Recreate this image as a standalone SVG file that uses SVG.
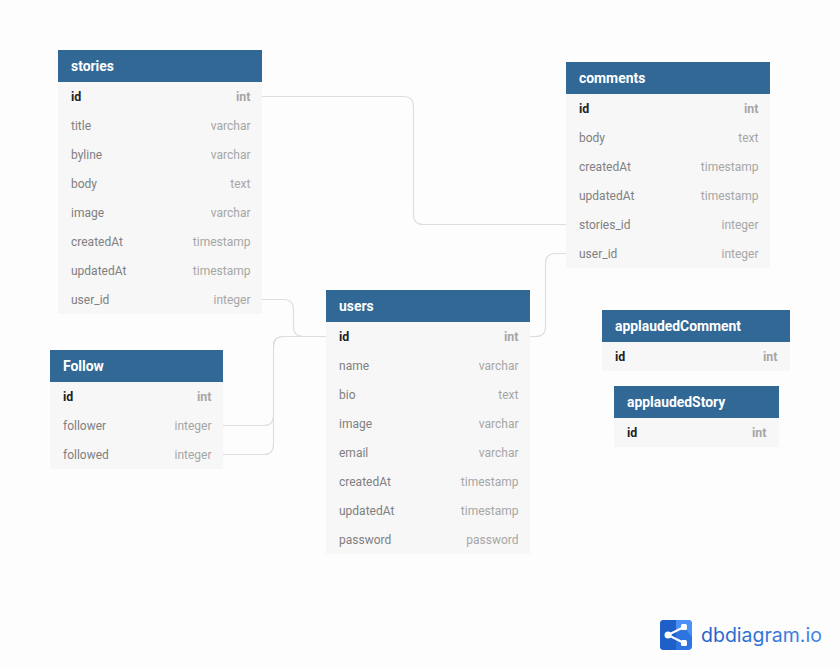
<svg xmlns="http://www.w3.org/2000/svg" width="840" height="669" viewBox="0 0 840 669">
<defs>
<linearGradient id="logoText" x1="0" x2="1" y1="0" y2="0"><stop offset="0" stop-color="#2563c9"/><stop offset="1" stop-color="#3f86e8"/></linearGradient>
</defs>
<style>
text{font-family:Roboto,"Liberation Sans",sans-serif;font-size:12px}
.h{fill:#316896}
.b{fill:#f7f7f7}
.t{fill:#fff;font-weight:700;font-size:13.9px}
.n{fill:#808080}
.p{fill:#222;font-weight:700;font-size:12.4px}
.y{fill:#a6a6a6;text-anchor:end}
.yp{fill:#a6a6a6;font-weight:700;text-anchor:end;font-size:12.4px}
.c{fill:none;stroke:#dddddd;stroke-width:1.1}
</style>
<rect width="840" height="669" fill="#fdfdfd"/>
<g id="connectors">
<path class="c" d="M262 96.5H403.5Q413.5 96.5 413.5 106.500V214.500Q413.5 224.500 423.500 224.500H566"/>
<path class="c" d="M262 299.500H283.500Q293.500 299.500 293.500 309.500V326.500Q293.500 336.500 303.500 336.500H326"/>
<path class="c" d="M223 425.500H263.500Q273.500 425.500 273.500 415.500V346.500Q273.500 336.500 283.500 336.500H326"/>
<path class="c" d="M223 454.500H263.500Q273.500 454.500 273.500 444.500V346.500Q273.500 336.500 283.500 336.500H326"/>
<path class="c" d="M530 336.500H535.500Q545.500 336.500 545.500 326.500V263.500Q545.500 253.500 555.500 253.500H566"/>
</g>
<g id="stories">
<rect class="b" x="58" y="82" width="204" height="232"/><rect class="h" x="58" y="50" width="204" height="32"/>
<text class="t" x="71" y="71">stories</text>
<text class="p" x="71" y="101">id</text><text class="yp" x="250.500" y="101">int</text>
<text class="n" x="71" y="130">title</text><text class="y" x="250.500" y="130">varchar</text>
<text class="n" x="71" y="159">byline</text><text class="y" x="250.500" y="159">varchar</text>
<text class="n" x="71" y="188">body</text><text class="y" x="250.500" y="188">text</text>
<text class="n" x="71" y="217">image</text><text class="y" x="250.500" y="217">varchar</text>
<text class="n" x="71" y="246">createdAt</text><text class="y" x="250.500" y="246">timestamp</text>
<text class="n" x="71" y="275">updatedAt</text><text class="y" x="250.500" y="275">timestamp</text>
<text class="n" x="71" y="304">user_id</text><text class="y" x="250.500" y="304">integer</text>
</g>
<g id="comments">
<rect class="b" x="566" y="94" width="204" height="174"/><rect class="h" x="566" y="62" width="204" height="32"/>
<text class="t" x="579" y="83">comments</text>
<text class="p" x="579" y="113">id</text><text class="yp" x="758.500" y="113">int</text>
<text class="n" x="579" y="142">body</text><text class="y" x="758.500" y="142">text</text>
<text class="n" x="579" y="171">createdAt</text><text class="y" x="758.500" y="171">timestamp</text>
<text class="n" x="579" y="200">updatedAt</text><text class="y" x="758.500" y="200">timestamp</text>
<text class="n" x="579" y="229">stories_id</text><text class="y" x="758.500" y="229">integer</text>
<text class="n" x="579" y="258">user_id</text><text class="y" x="758.500" y="258">integer</text>
</g>
<g id="users">
<rect class="b" x="326" y="322" width="204" height="232"/><rect class="h" x="326" y="290" width="204" height="32"/>
<text class="t" x="339" y="311">users</text>
<text class="p" x="339" y="341">id</text><text class="yp" x="518.500" y="341">int</text>
<text class="n" x="339" y="370">name</text><text class="y" x="518.500" y="370">varchar</text>
<text class="n" x="339" y="399">bio</text><text class="y" x="518.500" y="399">text</text>
<text class="n" x="339" y="428">image</text><text class="y" x="518.500" y="428">varchar</text>
<text class="n" x="339" y="457">email</text><text class="y" x="518.500" y="457">varchar</text>
<text class="n" x="339" y="486">createdAt</text><text class="y" x="518.500" y="486">timestamp</text>
<text class="n" x="339" y="515">updatedAt</text><text class="y" x="518.500" y="515">timestamp</text>
<text class="n" x="339" y="544">password</text><text class="y" x="518.500" y="544">password</text>
</g>
<g id="Follow">
<rect class="b" x="50" y="382" width="173" height="87"/><rect class="h" x="50" y="350" width="173" height="32"/>
<text class="t" x="63" y="371">Follow</text>
<text class="p" x="63" y="401">id</text><text class="yp" x="211.500" y="401">int</text>
<text class="n" x="63" y="430">follower</text><text class="y" x="211.500" y="430">integer</text>
<text class="n" x="63" y="459">followed</text><text class="y" x="211.500" y="459">integer</text>
</g>
<g id="applaudedComment">
<rect class="b" x="602" y="342" width="188" height="29"/><rect class="h" x="602" y="310" width="188" height="32"/>
<text class="t" x="615" y="331">applaudedComment</text>
<text class="p" x="615" y="361">id</text><text class="yp" x="777.500" y="361">int</text>
</g>
<g id="applaudedStory">
<rect class="b" x="614" y="418" width="165" height="29"/><rect class="h" x="614" y="386" width="165" height="32"/>
<text class="t" x="627" y="407">applaudedStory</text>
<text class="p" x="627" y="437">id</text><text class="yp" x="766.500" y="437">int</text>
</g>
<g id="logo">
<rect x="660" y="620" width="32" height="30" rx="4" fill="#2e74e0"/>
<path d="M676 620H688a4 4 0 0 1 4 4V637L684 627L676 631Z" fill="#4a90f5"/>
<path d="M672 620H664a4 4 0 0 0-4 4V646a4 4 0 0 0 4 4H676V620Z" fill="#1f5fc8"/>
<path d="M668 635L684 627M668 635L684 643" stroke="#fff" stroke-width="2" fill="none"/>
<circle cx="668" cy="635" r="3.500" fill="#fff"/>
<rect x="681" y="624" width="6" height="6" rx="1.500" fill="#fff"/><rect x="681" y="640" width="6" height="6" rx="1.500" fill="#fff"/>
<text x="701" y="642" style="font-family:Inter,Lato,sans-serif;font-size:19.5px" fill="url(#logoText)">dbdiagram.io</text>
</g>
</svg>
